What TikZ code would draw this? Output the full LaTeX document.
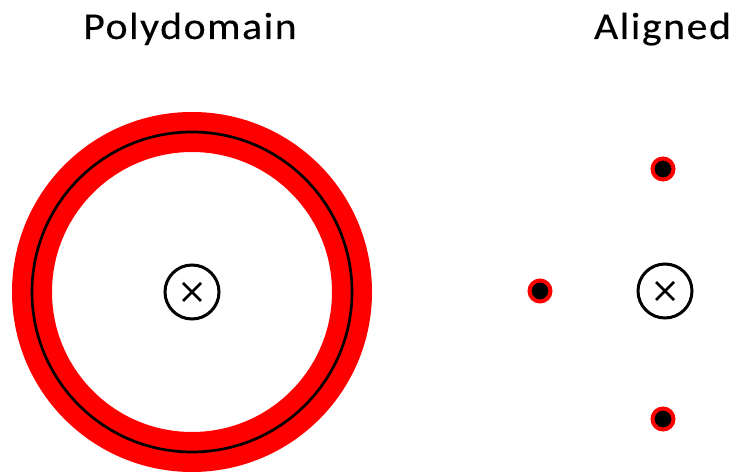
\documentclass[tikz,border=0pt]{standalone}
\usepackage{fontspec}
\setmainfont{Carlito}
\newfontfamily\titlefont[FakeStretch=1.1,LetterSpace=4,FakeBold=0.3]{Carlito}
\begin{document}
\begin{tikzpicture}[x=1pt,y=1pt,
  title/.style={anchor=base,inner sep=0pt,font=\titlefont\fontsize{38}{42}\selectfont},
  ring/.style={circle,draw=red,line width=40pt,minimum size=320pt,inner sep=0pt},
  midline/.style={circle,draw=black,line width=2.7pt,minimum size=320pt,inner sep=0pt},
  axis/.style={circle,draw=black,line width=3pt,minimum size=54pt,inner sep=0pt},
  dot/.style={circle,fill=black,draw=red,line width=4pt,minimum size=21pt,inner sep=0pt}]
\useasboundingbox (0,0) rectangle (736,473);
\node[title] (t1) at (190,434) {Polydomain};
\node[title] (t2) at (662.5,434) {Aligned};
\node[ring] (r) at (192,181) {};
\node[midline] (m) at (192,181) {};
\node[axis] (c1) at (192,181) {};
\draw[line width=2.5pt] ([shift={(-9,-9)}]c1.center) -- ([shift={(9,9)}]c1.center)
  ([shift={(-9,9)}]c1.center) -- ([shift={(9,-9)}]c1.center);
\node[axis] (c2) at (665,182) {};
\draw[line width=2.5pt] ([shift={(-9,-9)}]c2.center) -- ([shift={(9,9)}]c2.center)
  ([shift={(-9,9)}]c2.center) -- ([shift={(9,-9)}]c2.center);
\node[dot] (d1) at (663,304) {};
\node[dot] (d2) at (540,182) {};
\node[dot] (d3) at (663,54) {};
\end{tikzpicture}
\end{document}
